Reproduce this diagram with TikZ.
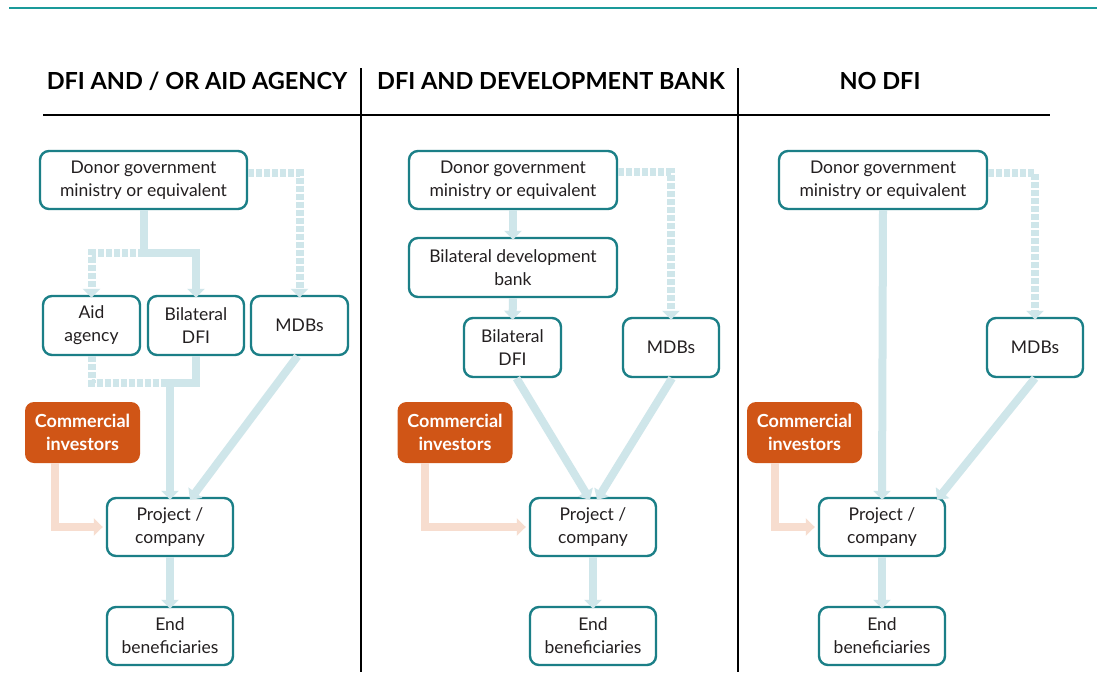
\documentclass[tikz,border=0pt]{standalone}
\usepackage{fontspec}
\setmainfont{Lato}
\usetikzlibrary{arrows.meta,calc}
\definecolor{teal1}{HTML}{1A9A9A}
\definecolor{boxline}{HTML}{1B7F87}
\definecolor{flowblue}{HTML}{CFE6EA}
\definecolor{floworange}{HTML}{F7DDCF}
\definecolor{orangebox}{HTML}{D05516}
\definecolor{txt}{HTML}{231F20}
\tikzset{
  box/.style={draw=boxline, line width=2.4pt, rounded corners=9pt, fill=white, align=center,
    text=txt, font=\fontsize{17.5}{23}\selectfont, inner sep=0pt},
  cbox/.style={fill=orangebox, rounded corners=9pt, align=center, text=white,
    font=\fontsize{18}{23}\selectfont\bfseries, inner sep=0pt, minimum width=115pt, minimum height=61pt},
  flow/.style={draw=flowblue, line width=8pt, -{Triangle[width=17pt,length=9pt]}},
  flowplain/.style={draw=flowblue, line width=8pt},
  dflow/.style={flow, dash pattern=on 6pt off 2pt},
  dflowplain/.style={flowplain, dash pattern=on 6pt off 2pt},
  oflow/.style={draw=floworange, line width=8pt, -{Triangle[width=17pt,length=9pt]}},
  head/.style={font=\fontsize{23.5}{26}\selectfont\bfseries, text=black, anchor=base},
  rule/.style={draw=black, line width=1.6pt}
}
\begin{document}
\begin{tikzpicture}[x=1pt,y=-1pt]
\useasboundingbox (0,0) rectangle (1097,672);
\fill[white] (0,0) rectangle (1097,672);
% top teal line
\coordinate (tl) at (9,8);
\coordinate (tr) at (1097,8);
\draw[teal1, line width=2.6pt] (tl) -- (tr);
% headings
\node[head] (h1) at (197,89) {DFI AND / OR AID AGENCY};
\node[head] (h2) at (551,89) {DFI AND DEVELOPMENT BANK};
\node[head] (h3) at (880,89) {NO DFI};
\coordinate (rl) at (43,115);
\coordinate (rr) at (1050,115);
\draw[rule] (rl) -- (rr);
\coordinate (v1t) at (361,68);
\coordinate (v1b) at (361,672);
\coordinate (v2t) at (738,68);
\coordinate (v2b) at (738,672);
\draw[rule] (v1t) -- (v1b);
\draw[rule] (v2t) -- (v2b);

% ---------- panel 1 ----------
\node[box, minimum width=207pt, minimum height=58pt] (donor1) at (143.5,180) {Donor government\\ministry or equivalent};
\node[box, minimum width=97pt, minimum height=59pt] (aid1) at (91.5,325.5) {Aid\\agency};
\node[box, minimum width=96pt, minimum height=59pt] (dfi1) at (196,325.5) {Bilateral\\DFI};
\node[box, minimum width=97pt, minimum height=59pt] (mdb1) at (299.5,325.5) {MDBs};
\node[cbox] (com1) at (82.5,432.5) {Commercial\\investors};
\node[box, minimum width=126pt, minimum height=58pt] (proj1) at (170,527) {Project /\\company};
\node[box, minimum width=126pt, minimum height=58pt] (end1) at (170,636) {End\\beneficiaries};

\coordinate (j1) at (143.5,253);
\coordinate (j2) at (170,383);
\draw[dflow] (j1) -| ([yshift=-3pt]aid1.north);
\draw[dflow] ([yshift=7pt]donor1.east) -| ([yshift=-3pt]mdb1.north);
\draw[dflowplain] (aid1.south) |- (j2);
\draw[flowplain] (donor1.south) -- (j1);
\draw[flow] (j1) -| ([yshift=-3pt]dfi1.north);
\draw[flowplain] (dfi1.south) |- ([xshift=-4pt]j2);
\draw[flow] (j2) -- ([yshift=-3pt]proj1.north);
\draw[flow] ([xshift=-2pt]mdb1.south) -- ([yshift=-3pt,xshift=20pt]proj1.north);
\draw[oflow] ([xshift=30pt]com1.south west) |- ([xshift=-3pt]proj1.west);
\draw[flow] (proj1.south) -- ([yshift=-3pt]end1.north);

% ---------- panel 2 ----------
\node[box, minimum width=208pt, minimum height=58pt] (donor2) at (513,180) {Donor government\\ministry or equivalent};
\node[box, minimum width=208pt, minimum height=59pt] (bank2) at (513,267.5) {Bilateral development\\bank};
\node[box, minimum width=97pt, minimum height=59pt] (dfi2) at (512.5,347.5) {Bilateral\\DFI};
\node[box, minimum width=96pt, minimum height=59pt] (mdb2) at (671,347.5) {MDBs};
\node[cbox] (com2) at (455,432.5) {Commercial\\investors};
\node[box, minimum width=126pt, minimum height=58pt] (proj2) at (593,527) {Project /\\company};
\node[box, minimum width=126pt, minimum height=58pt] (end2) at (593,636) {End\\beneficiaries};

\draw[flow] (donor2.south) -- ([yshift=-3pt]bank2.north);
\draw[flow] (bank2.south) -- ([yshift=-3pt]dfi2.north);
\draw[dflow] ([yshift=8pt]donor2.east) -| ([yshift=-3pt]mdb2.north);
\draw[flow] ([xshift=4pt]dfi2.south) -- ([yshift=-3pt,xshift=-3pt]proj2.north);
\draw[flow] ([xshift=1pt]mdb2.south) -- ([yshift=-3pt,xshift=4pt]proj2.north);
\draw[oflow] ([xshift=28pt]com2.south west) |- ([xshift=-3pt]proj2.west);
\draw[flow] (proj2.south) -- ([yshift=-3pt]end2.north);

% ---------- panel 3 ----------
\node[box, minimum width=208pt, minimum height=58pt] (donor3) at (883,180) {Donor government\\ministry or equivalent};
\node[box, minimum width=96pt, minimum height=59pt] (mdb3) at (1035,347.5) {MDBs};
\node[cbox] (com3) at (804.5,432.5) {Commercial\\investors};
\node[box, minimum width=126pt, minimum height=58pt] (proj3) at (882,527) {Project /\\company};
\node[box, minimum width=126pt, minimum height=58pt] (end3) at (882,636) {End\\beneficiaries};

\draw[flow] (donor3.south) -- ([yshift=-3pt]proj3.north);
\draw[dflow] ([yshift=7pt]donor3.east) -| ([yshift=-3pt]mdb3.north);
\draw[flow] (mdb3.south) -- ([yshift=-3pt,xshift=55pt]proj3.north);
\draw[oflow] ([xshift=28pt]com3.south west) |- ([xshift=-3pt]proj3.west);
\draw[flow] (proj3.south) -- ([yshift=-3pt]end3.north);
\end{tikzpicture}
\end{document}
